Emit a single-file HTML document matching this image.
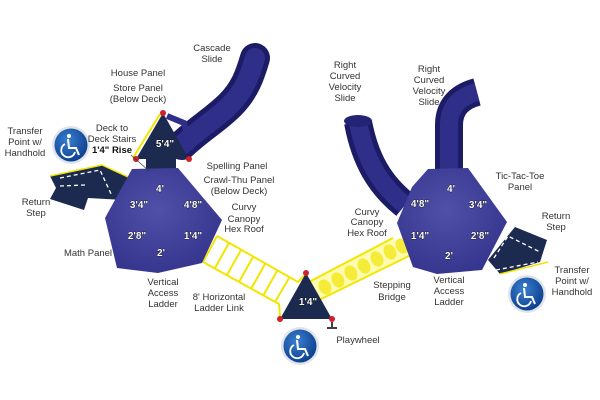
<!DOCTYPE html>
<html><head><meta charset="utf-8"><style>
html,body{margin:0;padding:0;background:#fff;width:600px;height:400px;overflow:hidden}
svg text{font-family:"Liberation Sans",sans-serif;font-size:9.5px;fill:#333;text-anchor:middle}
.n{font-size:10px;font-weight:bold;fill:#fff;stroke:#000;stroke-width:0.6px;paint-order:stroke}
</style></head><body>
<svg width="600" height="400" viewBox="0 0 600 400" xmlns="http://www.w3.org/2000/svg">
<defs>
<radialGradient id="hex" cx="0.45" cy="0.4" r="0.7"><stop offset="0" stop-color="#5050a8"/><stop offset="1" stop-color="#32328a"/></radialGradient>
<radialGradient id="wc" cx="0.4" cy="0.35" r="0.7"><stop offset="0" stop-color="#3a7fd0"/><stop offset="1" stop-color="#0b3d8c"/></radialGradient>
<g id="wheel">
<circle r="19" fill="#dfe3ea"/><circle r="16.5" fill="url(#wc)"/>
<circle cx="-2" cy="-9" r="2" fill="#fff"/>
<path d="M-3,-6 L-2,3 L5,3 L8,10" stroke="#fff" stroke-width="2" fill="none"/>
<path d="M-6,-1 A7,7 0 1 0 4,7" stroke="#fff" stroke-width="1.8" fill="none"/>
</g>
</defs>

<!-- Cascade slide -->
<path d="M182,145 C200,128 215,120 230,105 C245,90 250,75 255,58" stroke="#1c1c66" stroke-width="30" fill="none" stroke-linecap="round"/>
<path d="M182,145 C200,128 215,120 230,105 C245,90 250,75 255,58" stroke="#2f2f8a" stroke-width="20" fill="none" stroke-linecap="round"/>

<!-- right slides -->
<path d="M405,205 C380,185 365,160 358,122" stroke="#1c1c66" stroke-width="28" fill="none"/>
<path d="M405,205 C380,185 365,160 358,122" stroke="#2f2f8a" stroke-width="18" fill="none"/>
<ellipse cx="358" cy="121" rx="14" ry="6" fill="#242476"/>
<path d="M449,172 L449,125 C449,105 462,96 477,92" stroke="#1c1c66" stroke-width="28" fill="none"/>
<path d="M449,172 L449,125 C449,105 462,96 477,92" stroke="#2f2f8a" stroke-width="18" fill="none"/>

<!-- ladder link -->
<g stroke="#f2e600" stroke-width="2" fill="none">
<path d="M217,236 L298,282 L306,274"/>
<path d="M203,262 L279,304 L280,316"/>
<path d="M217,236 L203,262 M229,243 L215,268 M241,250 L227,275 M253,257 L239,282 M265,264 L251,289 M277,271 L263,296 M289,278 L275,302"/>
</g>
<!-- stepping bridge -->
<path d="M307,283 L393,238 L413,254 L313,303 Z" fill="#fffbb0"/>
<g stroke="#f2e600" stroke-width="2" fill="none"><path d="M307,283 L393,238"/><path d="M313,303 L413,254"/></g>
<g fill="#f5ec3a">
<ellipse cx="325" cy="287" rx="6" ry="8" transform="rotate(-28 325 287)"/>
<ellipse cx="338" cy="280" rx="6" ry="8" transform="rotate(-28 338 280)"/>
<ellipse cx="351" cy="273" rx="6" ry="8" transform="rotate(-28 351 273)"/>
<ellipse cx="364" cy="266" rx="6" ry="8" transform="rotate(-28 364 266)"/>
<ellipse cx="377" cy="259" rx="6" ry="8" transform="rotate(-28 377 259)"/>
<ellipse cx="390" cy="252" rx="6" ry="8" transform="rotate(-28 390 252)"/>
<ellipse cx="402" cy="246" rx="6" ry="8" transform="rotate(-28 402 246)"/>
</g>

<!-- left stairs -->
<path d="M50,176 L102,165 L128,177 L124,200 L88,198 L84,210 L50,199 L56,188 Z" fill="#1b2a4e"/>
<path d="M50,176 L102,165 M102,165 L128,177" stroke="#f2e600" stroke-width="1.5"/>
<path d="M60,178 L100,170 L112,196 M85,185 L60,186" stroke="#fff" stroke-width="1.3" stroke-dasharray="4,3" fill="none"/>
<!-- right stairs -->
<path d="M488,260 L515,227 L547,240 L540,262 L500,274 Z" fill="#1b2a4e"/>
<path d="M500,274 L548,262" stroke="#f2e600" stroke-width="1.5"/>
<path d="M494,258 L508,236 L540,252 M496,270 L538,262" stroke="#fff" stroke-width="1.3" stroke-dasharray="4,3" fill="none"/>

<!-- left hex -->
<path d="M146,158 L176,158 L176,170 L146,170 Z" fill="#1b2a4e"/>
<polygon points="132,169 178,168 222,220 202,263 158,273 117,268 105,218" fill="url(#hex)"/>
<!-- top triangle -->
<polygon points="163,113 136,159 189,159" fill="#1b2a4e"/>
<path d="M160,114 L133,158" stroke="#f2e600" stroke-width="2"/>
<path d="M167,116 L184,123 L191,150" stroke="#2f2f8a" stroke-width="6" fill="none"/>
<circle cx="163" cy="113" r="3" fill="#d0202a"/><circle cx="136" cy="159" r="3" fill="#d0202a"/><circle cx="189" cy="159" r="3" fill="#d0202a"/>
<text class="n" x="165" y="147">5'4"</text>
<line x1="131" y1="155" x2="149" y2="171" stroke="#333" stroke-width="0.7"/>
<text class="n" x="160" y="192">4'</text>
<text class="n" x="139" y="208">3'4"</text>
<text class="n" x="193" y="208">4'8"</text>
<text class="n" x="137" y="239">2'8"</text>
<text class="n" x="193" y="239">1'4"</text>
<text class="n" x="161" y="256">2'</text>

<!-- right hex -->
<polygon points="428,169 468,168 507,222 482,270 437,274 413,267 397,223 412,187" fill="url(#hex)"/>
<text class="n" x="451" y="192">4'</text>
<text class="n" x="420" y="207">4'8"</text>
<text class="n" x="478" y="208">3'4"</text>
<text class="n" x="420" y="239">1'4"</text>
<text class="n" x="480" y="239">2'8"</text>
<text class="n" x="449" y="259">2'</text>

<!-- middle triangle -->
<polygon points="306,273 280,319 332,319" fill="#1b2a4e"/>
<circle cx="306" cy="273" r="3" fill="#d0202a"/><circle cx="280" cy="319" r="3" fill="#d0202a"/><circle cx="332" cy="319" r="3" fill="#d0202a"/>
<path d="M332,322 L332,327 M327,328 L337,328" stroke="#000" stroke-width="1.5"/>
<text class="n" x="308" y="305">1'4"</text>

<use href="#wheel" x="71" y="145"/>
<use href="#wheel" x="300" y="346"/>
<use href="#wheel" x="527" y="294"/>

<!-- labels -->
<text x="212" y="51">Cascade</text><text x="212" y="62">Slide</text>
<text x="138" y="76">House Panel</text>
<text x="138" y="91">Store Panel</text><text x="138" y="102">(Below Deck)</text>
<text x="25" y="134">Transfer</text><text x="25" y="145">Point w/</text><text x="25" y="156">Handhold</text>
<text x="112" y="131">Deck to</text><text x="112" y="142">Deck Stairs</text><text x="112" y="153" style="font-weight:bold;fill:#111">1'4" Rise</text>
<text x="36" y="205">Return</text><text x="36" y="216">Step</text>
<text x="237" y="169">Spelling Panel</text>
<text x="239" y="183">Crawl-Thu Panel</text><text x="239" y="194">(Below Deck)</text>
<text x="244" y="210">Curvy</text><text x="244" y="222">Canopy</text><text x="244" y="232">Hex Roof</text>
<text x="88" y="256">Math Panel</text>
<text x="163" y="285">Vertical</text><text x="163" y="296">Access</text><text x="163" y="307">Ladder</text>
<text x="219" y="300">8' Horizontal</text><text x="219" y="311">Ladder Link</text>
<text x="358" y="343">Playwheel</text>
<text x="392" y="288">Stepping</text><text x="392" y="300">Bridge</text>
<text x="345" y="68">Right</text><text x="345" y="79">Curved</text><text x="345" y="90">Velocity</text><text x="345" y="101">Slide</text>
<text x="429" y="72">Right</text><text x="429" y="83">Curved</text><text x="429" y="94">Velocity</text><text x="429" y="105">Slide</text>
<text x="520" y="179">Tic-Tac-Toe</text><text x="520" y="190">Panel</text>
<text x="367" y="215">Curvy</text><text x="367" y="225">Canopy</text><text x="367" y="236">Hex Roof</text>
<text x="556" y="219">Return</text><text x="556" y="230">Step</text>
<text x="449" y="283">Vertical</text><text x="449" y="294">Access</text><text x="449" y="305">Ladder</text>
<text x="572" y="273">Transfer</text><text x="572" y="284">Point w/</text><text x="572" y="295">Handhold</text>
</svg>
</body></html>
